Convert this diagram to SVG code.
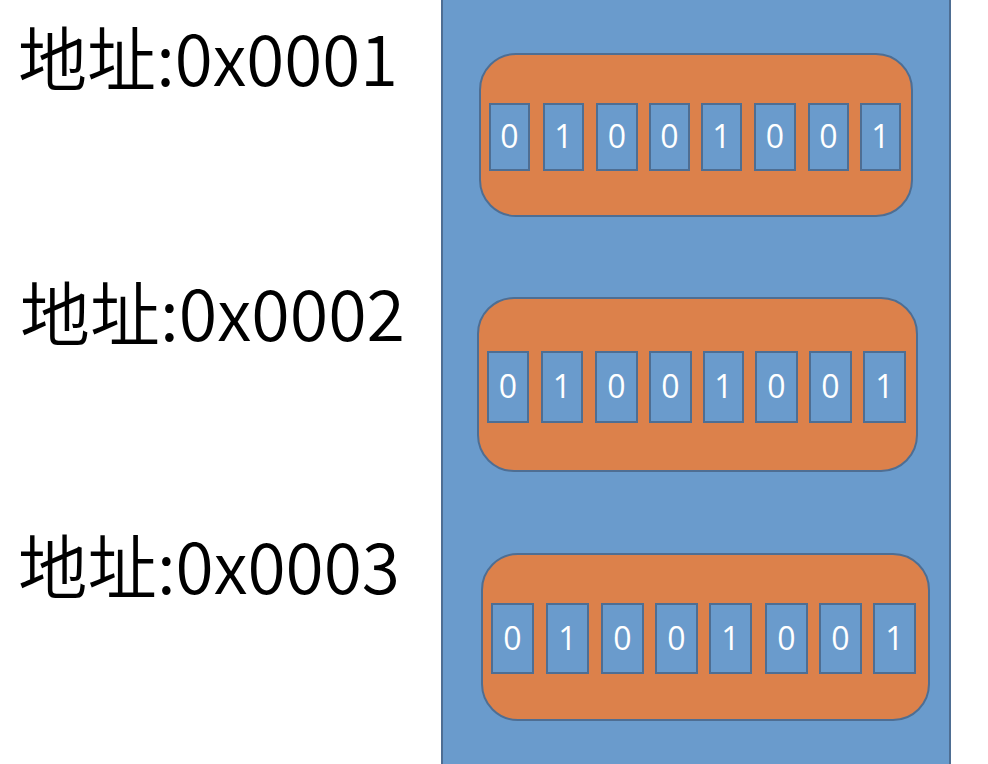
<svg xmlns="http://www.w3.org/2000/svg" width="988" height="764" viewBox="0 0 988 764">
<style>
.mem{fill:#6A9BCC;stroke:#4E6E93;stroke-width:2}
.byte{fill:#DC814B;stroke:#4E6E93;stroke-width:2}
.bit{fill:#6A9BCC;stroke:#4E6E93;stroke-width:2}
.bt{fill:#FFFFFF;font-family:"Open Sans","Noto Sans",sans-serif;font-size:32px;font-weight:400;text-anchor:middle}
.lbl{fill:#000000;font-family:"Noto Sans CJK SC","Noto Sans",sans-serif;font-size:70px;font-weight:350}
</style>
<rect fill="#FFFFFF" x="0" y="0" width="988" height="764"/>
<g id="memory"><rect class="mem" x="442" y="-4" width="508" height="772"/></g>
<g id="label1"><text class="lbl" x="18" y="86" textLength="380" lengthAdjust="spacingAndGlyphs">地址:0x0001</text></g>
<g id="label2"><text class="lbl" x="20" y="341" textLength="385" lengthAdjust="spacingAndGlyphs">地址:0x0002</text></g>
<g id="label3"><text class="lbl" x="18" y="594" textLength="382" lengthAdjust="spacingAndGlyphs">地址:0x0003</text></g>
<g id="byte1">
<rect class="byte" x="480" y="54" width="432" height="162" rx="36"/>
<rect class="bit" x="490" y="104" width="39" height="66"/><text class="bt" x="509.5" y="148">0</text>
<rect class="bit" x="544" y="104" width="39" height="66"/><text class="bt" x="563.5" y="148">1</text>
<rect class="bit" x="597" y="104" width="40" height="66"/><text class="bt" x="617" y="148">0</text>
<rect class="bit" x="650" y="104" width="39" height="66"/><text class="bt" x="669.5" y="148">0</text>
<rect class="bit" x="702" y="104" width="39" height="66"/><text class="bt" x="721.5" y="148">1</text>
<rect class="bit" x="755" y="104" width="40" height="66"/><text class="bt" x="775" y="148">0</text>
<rect class="bit" x="809" y="104" width="39" height="66"/><text class="bt" x="828.5" y="148">0</text>
<rect class="bit" x="861" y="104" width="39" height="66"/><text class="bt" x="880.5" y="148">1</text>
</g>
<g id="byte2">
<rect class="byte" x="478" y="298" width="439" height="173" rx="36"/>
<rect class="bit" x="488" y="352" width="40" height="70"/><text class="bt" x="508" y="398">0</text>
<rect class="bit" x="542" y="352" width="40" height="70"/><text class="bt" x="562" y="398">1</text>
<rect class="bit" x="596" y="352" width="41" height="70"/><text class="bt" x="616.5" y="398">0</text>
<rect class="bit" x="650" y="352" width="41" height="70"/><text class="bt" x="670.5" y="398">0</text>
<rect class="bit" x="704" y="352" width="39" height="70"/><text class="bt" x="723.5" y="398">1</text>
<rect class="bit" x="756" y="352" width="41" height="70"/><text class="bt" x="776.5" y="398">0</text>
<rect class="bit" x="810" y="352" width="41" height="70"/><text class="bt" x="830.5" y="398">0</text>
<rect class="bit" x="864" y="352" width="41" height="70"/><text class="bt" x="884.5" y="398">1</text>
</g>
<g id="byte3">
<rect class="byte" x="482" y="554" width="447" height="166" rx="36"/>
<rect class="bit" x="492" y="604" width="41" height="69"/><text class="bt" x="512.5" y="650">0</text>
<rect class="bit" x="547" y="604" width="41" height="69"/><text class="bt" x="567.5" y="650">1</text>
<rect class="bit" x="602" y="604" width="41" height="69"/><text class="bt" x="622.5" y="650">0</text>
<rect class="bit" x="656" y="604" width="41" height="69"/><text class="bt" x="676.5" y="650">0</text>
<rect class="bit" x="710" y="604" width="41" height="69"/><text class="bt" x="730.5" y="650">1</text>
<rect class="bit" x="766" y="604" width="41" height="69"/><text class="bt" x="786.5" y="650">0</text>
<rect class="bit" x="820" y="604" width="41" height="69"/><text class="bt" x="840.5" y="650">0</text>
<rect class="bit" x="874" y="604" width="41" height="69"/><text class="bt" x="894.5" y="650">1</text>
</g>
<g id="connectors"></g>
</svg>
